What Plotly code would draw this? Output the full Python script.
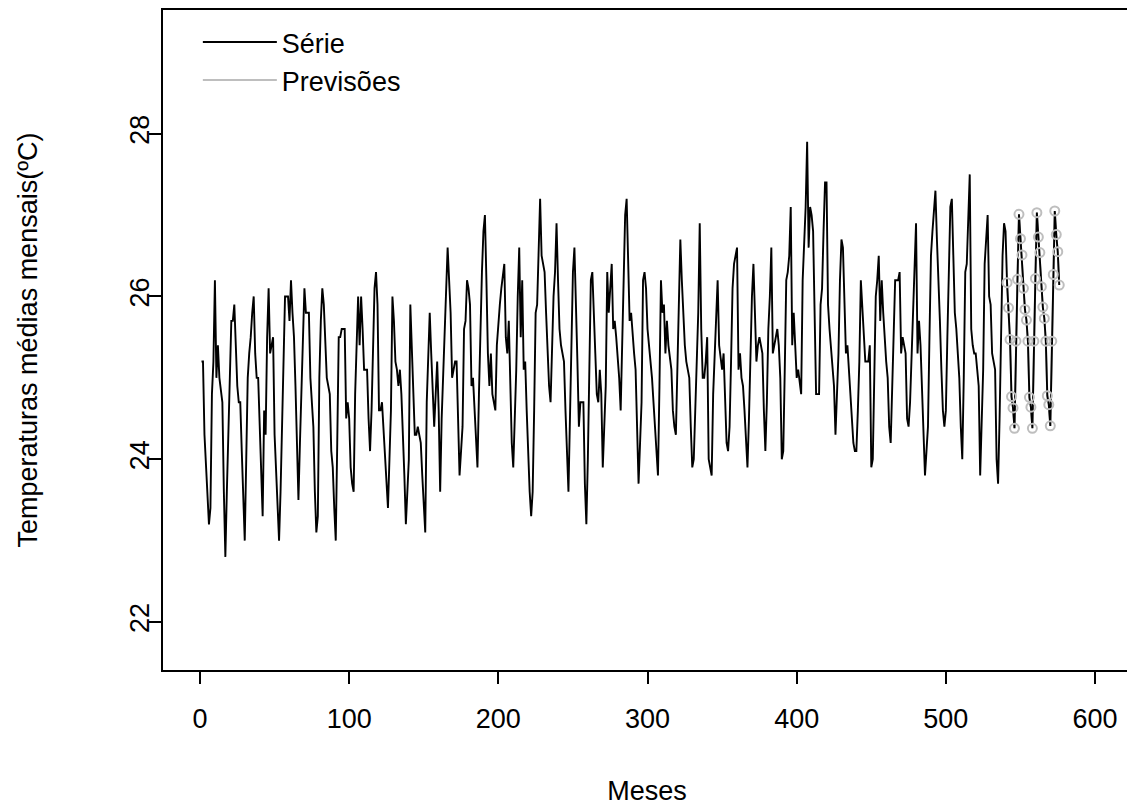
import plotly.graph_objects as go

serie = [
    25.2, 25.2, 24.3, 23.9, 23.5, 23.2, 23.4, 24.8, 25.2, 26.2, 25.0, 25.4,
    25.0, 24.8, 24.7, 23.6, 22.8, 23.6, 24.4, 25.2, 25.7, 25.7, 25.9, 25.4,
    24.9, 24.7, 24.7, 24.1, 23.6, 23.0, 24.0, 25.0, 25.3, 25.5, 25.8, 26.0,
    25.3, 25.0, 25.0, 24.4, 23.8, 23.3, 24.6, 24.3, 25.5, 26.1, 25.3, 25.4,
    25.5, 24.3, 23.9, 23.5, 23.0, 23.6, 24.3, 25.3, 26.0, 26.0, 26.0, 25.7,
    26.2, 25.8, 25.5, 24.9, 24.1, 23.5, 24.2, 24.8, 25.4, 26.1, 25.8, 25.8,
    25.8, 25.0, 24.7, 24.4, 23.6, 23.1, 23.3, 25.0, 25.7, 26.1, 25.9, 25.5,
    25.0, 24.9, 24.8, 24.1, 23.9, 23.4, 23.0, 24.2, 25.5, 25.5, 25.6, 25.6,
    25.6, 24.5, 24.7, 24.5, 23.9, 23.7, 23.6, 24.8, 25.4, 26.0, 25.4, 26.0,
    25.6, 25.1, 25.1, 25.1, 24.5, 24.1, 24.6, 25.3, 26.1, 26.3, 25.9, 24.6,
    24.6, 24.7, 24.4, 24.1, 23.7, 23.4, 24.0, 24.6, 26.0, 25.7, 25.2, 25.1,
    24.9, 25.1, 24.8, 24.4, 23.8, 23.2, 23.6, 24.0, 25.9, 25.4, 25.0, 24.3,
    24.3, 24.4, 24.3, 24.2, 23.8, 23.4, 23.1, 24.7, 25.3, 25.8, 25.3, 24.8,
    24.4, 24.8, 25.2, 24.6, 23.6, 24.5, 25.0, 25.4, 26.0, 26.6, 26.2, 25.8,
    25.0, 25.1, 25.2, 25.2, 24.4, 23.8, 24.1, 24.4, 25.6, 25.7, 26.2, 26.1,
    25.9, 24.9, 25.0, 24.6, 24.2, 23.9, 24.8, 25.8, 26.3, 26.8, 27.0, 26.2,
    25.3, 24.9, 25.3, 24.8, 24.7, 24.6, 25.4, 25.7, 25.9, 26.1, 26.3, 26.4,
    25.5, 25.3, 25.7, 24.7, 24.2, 23.9, 24.5, 25.1, 26.0, 26.6, 25.5, 26.2,
    25.1, 25.2, 24.6, 24.0, 23.6, 23.3, 23.6, 24.6, 25.8, 25.9, 26.6, 27.2,
    26.5, 26.4, 26.3, 25.8, 25.3, 24.9, 24.7, 25.4, 26.0, 26.3, 26.9, 26.2,
    25.6, 25.4, 25.3, 25.2, 24.6, 24.0, 23.6, 24.5, 25.4, 26.3, 26.6, 25.7,
    25.2, 24.4, 24.7, 24.7, 24.7, 23.7, 23.2, 24.0, 25.4, 26.2, 26.3, 25.9,
    25.3, 24.8, 24.7, 25.1, 24.8, 23.9, 24.4, 24.9, 26.3, 25.8, 26.1, 26.4,
    25.6, 25.7, 25.5, 25.3, 25.0, 24.6, 25.4, 26.2, 27.0, 27.2, 26.4, 25.7,
    25.8, 25.5, 25.3, 25.1, 24.4, 23.7, 24.2, 24.7, 26.2, 26.3, 26.1, 25.6,
    25.4, 25.2, 25.0, 24.7, 24.4, 24.1, 23.8, 24.9, 26.2, 25.8, 25.9, 25.3,
    25.7, 25.4, 25.2, 25.1, 24.6, 24.4, 24.3, 25.2, 26.0, 26.7, 26.2, 25.7,
    25.4, 25.2, 25.1, 25.0, 24.4, 23.9, 24.0, 24.6, 25.2, 25.8, 26.9, 25.6,
    25.0, 25.0, 25.2, 25.5, 24.0, 23.9, 23.8, 24.8, 25.2, 25.6, 26.2, 25.4,
    25.2, 25.1, 25.3, 24.6, 24.2, 24.1, 24.4, 25.2, 26.1, 26.4, 26.5, 26.6,
    25.1, 25.3, 25.0, 24.9, 24.6, 24.2, 23.9, 24.5, 25.5, 26.0, 26.4, 25.6,
    25.2, 25.4, 25.5, 25.4, 25.3, 24.6, 24.1, 24.7, 25.6, 26.0, 26.6, 25.3,
    25.4, 25.5, 25.6, 25.4, 25.0, 24.0, 24.1, 25.1, 26.2, 26.3, 26.5, 27.1,
    25.4, 25.8, 25.3, 25.0, 25.1, 24.9, 24.8, 26.2, 26.6, 27.1, 27.9, 26.6,
    27.1, 27.0, 26.8, 25.9, 24.8, 24.8, 24.8, 25.9, 26.1, 26.8, 27.4, 27.4,
    25.9, 25.6, 25.4, 25.1, 24.9, 24.3, 24.8, 25.3, 26.2, 26.7, 26.6, 26.0,
    25.3, 25.4, 25.1, 24.8, 24.4, 24.2, 24.1, 24.1, 24.6, 25.2, 26.2, 25.9,
    25.6, 25.2, 25.2, 25.2, 25.4, 23.9, 24.0, 25.0, 26.0, 26.2, 26.5, 25.7,
    26.2, 25.8, 25.4, 25.2, 25.0, 24.4, 24.2, 25.0, 25.4, 26.2, 26.2, 26.2,
    26.3, 25.3, 25.5, 25.4, 25.3, 24.5, 24.4, 24.7, 25.2, 25.8, 26.3, 26.9,
    25.3, 25.7, 25.4, 24.9, 24.3, 23.8, 24.1, 24.4, 25.5, 26.5, 26.8, 27.1,
    27.3, 26.7, 26.3, 25.7, 25.1, 24.6, 24.4, 24.6, 25.5, 26.3, 27.1, 27.2,
    26.5, 25.8, 25.6, 25.3, 25.0, 24.4, 24.0, 25.0, 26.3, 26.4, 26.9, 27.5,
    25.6, 25.4, 25.3, 25.3, 25.1, 24.9, 23.8, 24.4, 25.1, 26.4, 26.7, 27.0,
    26.0, 25.9, 25.3, 25.2, 25.1, 24.0, 23.7, 24.5, 25.8, 26.5, 26.9, 26.8,
]

previsoes = [
    26.17, 25.86, 25.47, 24.77, 24.63, 24.38, 25.45, 26.21, 27.01, 26.71, 26.51, 26.10,
    25.84, 25.71, 25.45, 24.76, 24.64, 24.38, 25.45, 26.22, 27.03, 26.73, 26.54, 26.12,
    25.87, 25.73, 25.45, 24.78, 24.67, 24.41, 25.45, 26.27, 27.05, 26.76, 26.55, 26.14,
]

meses = list(range(1, len(serie) + 1))
meses_prev = list(range(len(serie) + 1, len(serie) + len(previsoes) + 1))

x_ticks = [0, 100, 200, 300, 400, 500, 600]
y_ticks = [22, 24, 26, 28]

FONT = "Liberation Sans, Arial, sans-serif"
GRAY = "#bebebe"
FS = 27

fig = go.Figure()
fig.add_trace(go.Scatter(x=meses_prev, y=previsoes, mode="lines",
                         showlegend=False, hoverinfo="skip",
                         line=dict(color=GRAY, width=2)))
fig.add_trace(go.Scatter(x=meses + meses_prev, y=serie + previsoes, mode="lines",
                         name="Série", line=dict(color="black", width=1.9)))
fig.add_trace(go.Scatter(x=meses_prev, y=previsoes, mode="markers",
                         name="Previsões", showlegend=False,
                         marker=dict(symbol="circle-open", size=9,
                                     color=GRAY, line=dict(width=2, color=GRAY))))
fig.add_trace(go.Scatter(x=[None], y=[None], mode="lines", name="Previsões",
                         line=dict(color=GRAY, width=2)))

fig.update_layout(
    width=1127, height=798,
    margin=dict(l=155, r=4, t=2, b=136),
    paper_bgcolor="white", plot_bgcolor="white",
    font=dict(family=FONT, size=FS, color="black"),
    showlegend=True,
    legend=dict(x=0.036, y=0.988, xanchor="left", yanchor="top",
                bgcolor="rgba(0,0,0,0)", borderwidth=0,
                font=dict(size=FS), tracegroupgap=0, itemwidth=74),
    xaxis=dict(range=[-24.8, 624.1], tickvals=x_ticks,
               ticktext=[str(v) for v in x_ticks], automargin=False,
               showgrid=False, zeroline=False,
               showline=True, mirror=True, linecolor="black", linewidth=1.5,
               ticks="outside", ticklen=12, tickwidth=1.5, tickcolor="black",
               ticklabelstandoff=12,
               title=dict(text="Meses", standoff=65, font=dict(size=FS))),
    yaxis=dict(range=[21.41, 29.52], tickvals=y_ticks,
               ticktext=[str(v) for v in y_ticks], automargin=False,
               showgrid=False, zeroline=False, tickangle=-90,
               showline=True, mirror=True, linecolor="black", linewidth=1.5,
               ticks="outside", ticklen=12, tickwidth=1.5, tickcolor="black",
               ticklabelstandoff=-11,
               title=dict(text="Temperaturas médias mensais(ºC)", standoff=80,
                          font=dict(size=FS))),
)

fig.write_html("out.html")
